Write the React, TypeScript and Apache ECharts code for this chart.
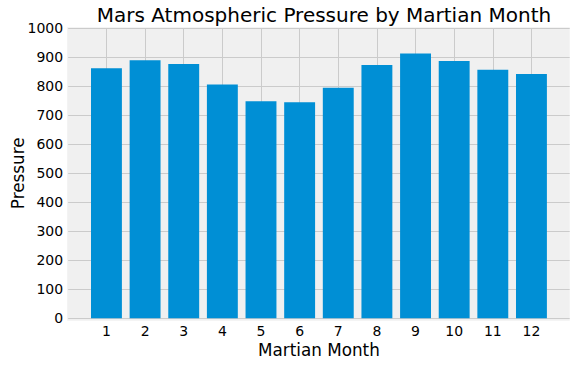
import React, { useEffect, useRef } from "react";
import * as echarts from "echarts";

const months = [1, 2, 3, 4, 5, 6, 7, 8, 9, 10, 11, 12];
const pressure = [862.49, 889.46, 877.32, 806.33, 748.56, 745.05, 795.11, 873.83, 913.31, 887.31, 857.01, 842.16];
const yTicks = [0, 100, 200, 300, 400, 500, 600, 700, 800, 900, 1000];
const BAR_WIDTH = 0.8;

const FONT = "DejaVu Sans";

export default function App() {
  const ref = useRef<HTMLDivElement>(null);
  useEffect(() => {
    if (!ref.current) return;
    const chart = echarts.init(ref.current, null, { renderer: "svg" });
    const gridLeft = 68.2;
    const gridRight = 6.3;
    const gridTop = 28.3;
    const gridBottom = 47.7;
    chart.setOption({
      animation: false,
      backgroundColor: "#ffffff",
      textStyle: { fontFamily: FONT },
      title: {
        text: "Mars Atmospheric Pressure by Martian Month",
        left: (gridLeft + 576 - gridRight) / 2,
        textAlign: "center",
        top: 0,
        textStyle: { fontFamily: FONT, fontSize: 20, fontWeight: "normal", color: "#000" },
      },
      graphic: [
        {
          type: "rect",
          z: -10,
          silent: true,
          shape: { x: gridLeft - 1, y: gridTop - 1, width: 576 - gridRight - gridLeft + 1, height: 366 - gridBottom - gridTop + 3.5 },
          style: { fill: "#f0f0f0" },
        },
      ],
      grid: {
        left: gridLeft,
        right: gridRight,
        top: gridTop,
        bottom: gridBottom,
        containLabel: false,
        outerBoundsMode: "none",
      },
      xAxis: {
        type: "value",
        min: 0.01,
        max: 12.99,
        name: "Martian Month",
        nameLocation: "middle",
        nameGap: 23,
        nameMoveOverlap: false,
        nameTextStyle: { fontFamily: FONT, fontSize: 16.8, color: "#000" },
        axisLine: { show: false },
        axisTick: { show: false, customValues: months },
        axisLabel: { customValues: months, fontFamily: FONT, fontSize: 14, color: "#000", margin: 6 },
        splitLine: { show: true, lineStyle: { color: "#cbcbcb", width: 1 } },
      },
      yAxis: {
        type: "value",
        min: 0,
        max: 1000,
        interval: 100,
        name: "Pressure",
        nameLocation: "middle",
        nameGap: 42,
        nameMoveOverlap: false,
        nameTextStyle: { fontFamily: FONT, fontSize: 16.8, color: "#000" },
        axisLine: { show: false },
        axisTick: { show: false },
        axisLabel: {
          fontFamily: FONT,
          fontSize: 14,
          color: "#000",
          margin: 5,
          formatter: (v: number) => (yTicks.includes(v) ? String(v) : ""),
        },
        splitLine: { show: true, lineStyle: { color: "#cbcbcb", width: 1 } },
      },
      series: [
        {
          type: "custom",
          data: months.map((m, i) => [m, pressure[i]]),
          encode: { x: 0, y: 1 },
          renderItem: (params: any, api: any) => {
            const x = api.value(0);
            const y = api.value(1);
            const top = api.coord([x, y]);
            const base = api.coord([x, 0]);
            const w = api.size([BAR_WIDTH, 0])[0];
            return {
              type: "rect",
              shape: { x: top[0] - w / 2, y: top[1], width: w, height: base[1] - top[1] },
              style: { fill: "#008fd5" },
            };
          },
        },
      ],
    });
    return () => chart.dispose();
  }, []);
  return <div ref={ref} style={{ width: 576, height: 366, position: "absolute", left: 0, top: 0 }} />;
}
